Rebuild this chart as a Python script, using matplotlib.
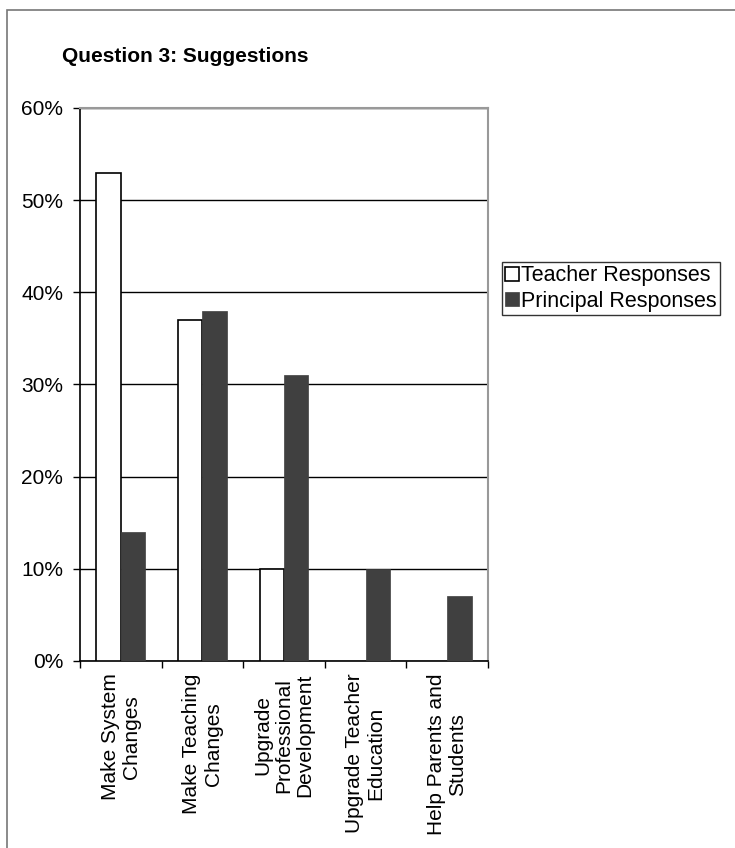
import numpy as np
import matplotlib.pyplot as plt
from matplotlib.patches import Rectangle
from matplotlib.ticker import FuncFormatter

plt.rcParams['font.family'] = ['Liberation Sans', 'DejaVu Sans']

categories = ["Make System\nChanges", "Make Teaching\nChanges",
              "Upgrade\nProfessional\nDevelopment", "Upgrade Teacher\nEducation",
              "Help Parents and\nStudents"]
teacher = [53, 37, 10, 0, 0]
principal = [14, 38, 31, 10, 7]
y_ticks = [0, 10, 20, 30, 40, 50, 60]

W, H = 735, 848
fs = 15
fig = plt.figure(figsize=(W / 100, H / 100), dpi=100)
ax = fig.add_axes([80 / W, 1 - 661 / H, 408 / W, (661 - 108) / H])

x = np.arange(len(categories))
bw = 0.3
t_bars = ax.bar(x - bw / 2, teacher, bw, color='white', edgecolor='black',
                linewidth=1.2, label='Teacher Responses', zorder=3)
# zero bars are not drawn
for b, v in zip(t_bars, teacher):
    if v == 0:
        b.set_visible(False)
ax.bar(x + bw / 2, principal, bw, color='#404040', edgecolor='#404040',
       linewidth=0.5, label='Principal Responses', zorder=3)

ax.set_xlim(-0.5, len(categories) - 0.5)
ax.set_ylim(0, 60)
ax.set_yticks(y_ticks)
ax.yaxis.set_major_formatter(FuncFormatter(lambda v, p: f"{int(v)}%"))
ax.tick_params(axis='y', labelsize=fs, direction='out', length=5, width=1, pad=7)
ax.yaxis.grid(True, color='black', linewidth=1, zorder=0)
ax.set_axisbelow(True)

ax.set_xticks(np.arange(len(categories) + 1) - 0.5)
ax.set_xticklabels([])
ax.set_xticks(x, minor=True)
ax.set_xticklabels(categories, minor=True, rotation=90, fontsize=fs,
                   va='top', ha='center', multialignment='center',
                   linespacing=1.15)
ax.tick_params(axis='x', which='major', direction='out', length=5, width=1)
ax.tick_params(axis='x', which='minor', length=0, pad=9)

for s in ['left', 'bottom']:
    ax.spines[s].set_color('black')
    ax.spines[s].set_linewidth(1.2)
for s in ['top', 'right']:
    ax.spines[s].set_color('#999999')
    ax.spines[s].set_linewidth(1.5)

leg = ax.legend(loc='upper left', bbox_to_anchor=(502 / W, 1 - 262 / H),
                bbox_transform=fig.transFigure, fontsize=15.5, frameon=True,
                fancybox=False, edgecolor='black', handlelength=0.62,
                handleheight=0.62, handletextpad=0.1, borderpad=0.15,
                labelspacing=0.2, borderaxespad=0)
leg.get_frame().set_linewidth(1)

fig.text(62 / W, 1 - 57 / H, "Question 3: Suggestions", fontsize=fs,
         fontweight='bold', va='center', ha='left')

fig.patches.append(Rectangle((6.5 / W, -0.1), 1.2, 1 - 10.5 / H + 0.1,
                             transform=fig.transFigure, fill=False,
                             edgecolor='#777777', linewidth=1.2))

fig.savefig('out.png', dpi=100)
